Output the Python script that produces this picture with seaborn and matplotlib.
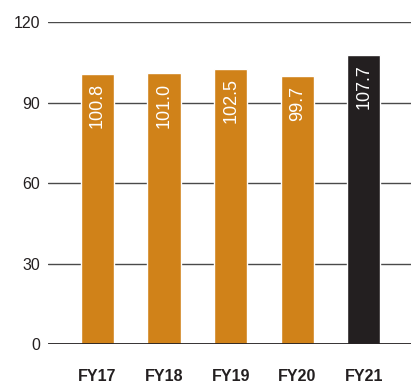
import matplotlib
matplotlib.use("Agg")
import matplotlib.pyplot as plt
import seaborn as sns
import pandas as pd

categories = ["FY17", "FY18", "FY19", "FY20", "FY21"]
values = [100.8, 101.0, 102.5, 99.7, 107.7]
bar_colors = ["#D08219", "#D08219", "#D08219", "#D08219", "#231F20"]
yticks = [0, 30, 60, 90, 120]

sns.set_theme(style="white")
plt.rcParams["font.family"] = ["Liberation Sans", "DejaVu Sans"]

df = pd.DataFrame({"cat": categories, "val": values})

fig = plt.figure(figsize=(4.11, 3.83), dpi=100)
ax = fig.add_axes([48 / 411, 1 - 344 / 383, 1 - 48 / 411, (344 - 22) / 383])

for t in yticks[1:]:
    ax.axhline(t, color="#4a4a4a", lw=1.0, zorder=0)

sns.barplot(data=df, x="cat", y="val", hue="cat", palette=bar_colors,
            width=0.5, saturation=1, legend=False, ax=ax, zorder=2)

ax.axhline(0, color="#231F20", lw=2.0, zorder=3)

for i, v in enumerate(values):
    ax.text(i, v - 3.5, f"{v:.1f}", rotation=90, ha="center", va="top",
            color="white", fontsize=13, zorder=4)

ax.set_ylim(0, 120)
ax.set_xlim(-0.744, 4.71)
ax.set_yticks(yticks)
ax.set_xlabel("")
ax.set_ylabel("")
for s in ax.spines.values():
    s.set_visible(False)
ax.tick_params(axis="y", length=0, pad=5.5, labelsize=11.5, colors="#231F20")
ax.tick_params(axis="x", length=0, pad=18, labelsize=11.5, colors="#231F20")
for lab in ax.get_xticklabels():
    lab.set_fontweight("bold")

fig.savefig("out.png", dpi=100)
